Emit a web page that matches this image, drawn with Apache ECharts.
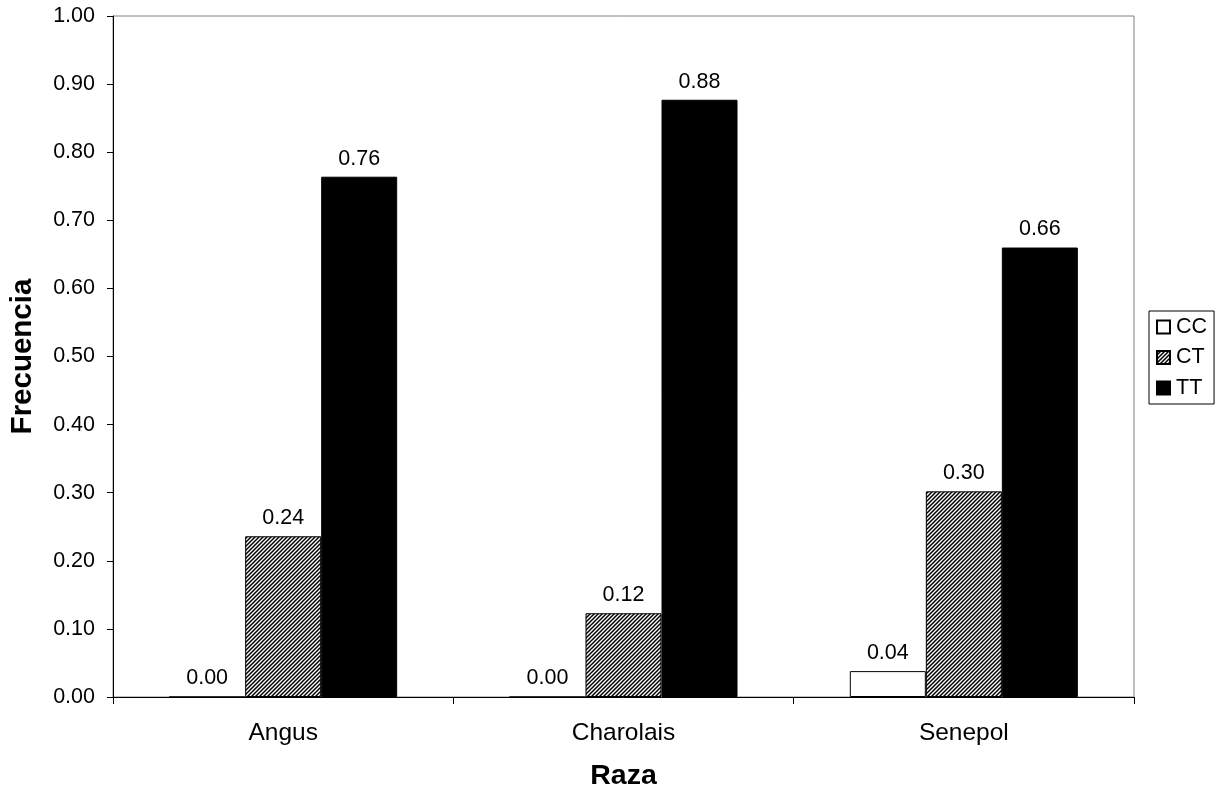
<!DOCTYPE html>
<html>
<head>
<meta charset="utf-8">
<script src="https://cdn.jsdelivr.net/npm/echarts@6/dist/echarts.min.js"></script>
<style>html,body{margin:0;padding:0;background:#fff;}#c{width:1216px;height:796px;}</style>
</head>
<body>
<div id="c"></div>
<script>
const categories = ['Angus', 'Charolais', 'Senepol'];
const seriesNames = ['CC', 'CT', 'TT'];
const ccValues = [0.0, 0.0, 0.038];
const ctValues = [0.236, 0.123, 0.302];
const ttValues = [0.764, 0.877, 0.660];
const yTicks = [0, 0.1, 0.2, 0.3, 0.4, 0.5, 0.6, 0.7, 0.8, 0.9, 1.0];

function hatch() {
  const n = 4;
  const c = document.createElement('canvas');
  c.width = n; c.height = n;
  const g = c.getContext('2d');
  g.fillStyle = '#fff'; g.fillRect(0, 0, n, n);
  g.strokeStyle = '#000'; g.lineWidth = 1.5;
  g.beginPath();
  g.moveTo(-1, n + 1); g.lineTo(n + 1, -1);
  g.moveTo(-1, 1); g.lineTo(1, -1);
  g.moveTo(n - 1, n + 1); g.lineTo(n + 1, n - 1);
  g.stroke();
  return { image: c, repeat: 'repeat' };
}

const font = '"Liberation Sans", Arial, sans-serif';
const labelCfg = {
  show: true, position: 'top', distance: 7, color: '#000', fontSize: 21.5, fontFamily: font,
  formatter: p => p.value.toFixed(2)
};
const chart = echarts.init(document.getElementById('c'), null, { renderer: 'canvas' });
chart.setOption({
  animation: false,
  backgroundColor: '#fff',
  textStyle: { fontFamily: font },
  grid: { left: 113, right: 82, top: 16, bottom: 98, show: true, borderColor: '#808080', borderWidth: 1 },
  legend: {
    orient: 'vertical', left: 1149, top: 311,
    data: seriesNames,
    itemWidth: 13, itemHeight: 13, itemGap: 8.5,
    padding: [5, 7, 5, 7],
    borderColor: '#000', borderWidth: 1,
    textStyle: { fontSize: 21.5, color: '#000', fontFamily: font, padding: [0, 0, 0, 1] },
    icon: 'rect'
  },
  xAxis: {
    type: 'category', data: categories,
    name: 'Raza', nameLocation: 'middle', nameGap: 65,
    nameTextStyle: { fontSize: 28.5, fontWeight: 'bold', color: '#000', fontFamily: font },
    axisLine: { lineStyle: { color: '#000', width: 1 } },
    axisTick: { show: true, length: 7, lineStyle: { color: '#000' } },
    axisLabel: { fontSize: 24.5, color: '#000', margin: 24, fontFamily: font },
    splitLine: { show: false }
  },
  yAxis: {
    type: 'value', min: 0, max: 1, interval: 0.1,
    name: 'Frecuencia', nameLocation: 'middle', nameGap: 75, nameRotate: 90,
    nameTextStyle: { fontSize: 29.5, fontWeight: 'bold', color: '#000', fontFamily: font },
    axisLine: { show: true, lineStyle: { color: '#000', width: 1 } },
    axisTick: { show: true, length: 6, lineStyle: { color: '#000' } },
    axisLabel: { fontSize: 21.5, color: '#000', margin: 18, fontFamily: font, formatter: v => v.toFixed(2) },
    splitLine: { show: false }
  },
  series: [
    { name: seriesNames[0], type: 'bar', data: ccValues, barGap: '0%', barCategoryGap: '33%',
      itemStyle: { color: '#fff', borderColor: '#000', borderWidth: 1 }, label: labelCfg },
    { name: seriesNames[1], type: 'bar', data: ctValues, barGap: '0%', barCategoryGap: '33%',
      itemStyle: { color: hatch(), borderColor: '#000', borderWidth: 1 }, label: labelCfg },
    { name: seriesNames[2], type: 'bar', data: ttValues, barGap: '0%', barCategoryGap: '33%',
      itemStyle: { color: '#000', borderColor: '#000', borderWidth: 1 }, label: labelCfg }
  ]
});
</script>
</body>
</html>
